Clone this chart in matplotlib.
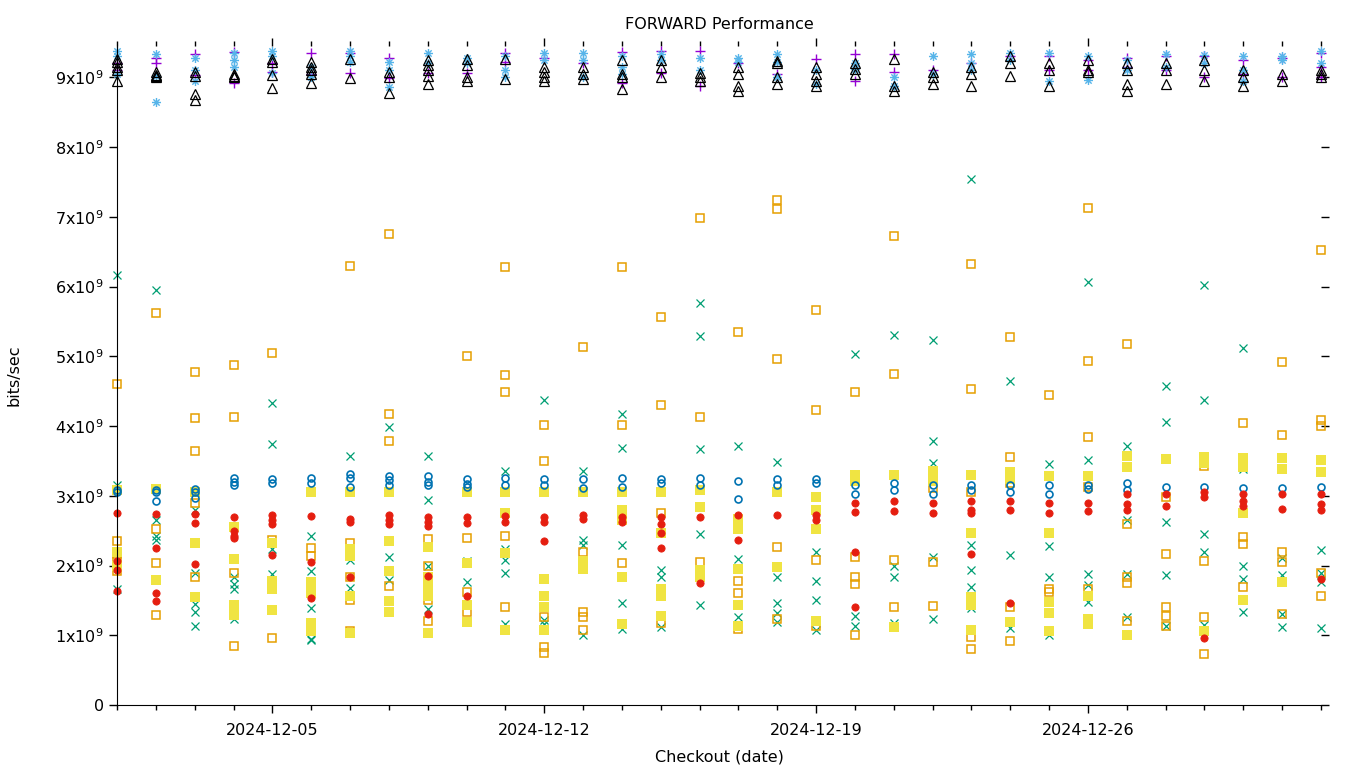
import datetime as dt
import matplotlib
matplotlib.use('Agg')
import matplotlib.pyplot as plt
import matplotlib.dates as mdates
from matplotlib.path import Path

# values in units of 1e9 bits/sec, one list per checkout day (2024-12-01 .. 2025-01-01)
start_day = dt.datetime(2024, 12, 1)

purple_plus = [[9.1, 9.2], [9.28, 9.2], [9.33, 9.03], [9.36, 8.92], [9.2, 9.08], [9.35, 9.05],
               [9.35, 9.06], [9.28, 8.99], [9.06], [9.06], [9.35, 9.22], [9.28], [9.2],
               [9.36, 8.92], [9.38, 9.06], [9.38, 8.88], [9.2], [9.05], [9.26], [9.34, 8.95],
               [9.33, 9.08], [9.1], [9.2], [9.3], [9.3, 9.1], [9.25, 9.1], [9.28, 9.15],
               [9.3, 9.1], [9.3, 9.0], [9.25, 9.05], [9.28, 9.0], [9.35, 9.15, 9.0]]

teal_x = [[6.17, 3.16, 1.66], [5.95, 2.66, 2.42, 2.36], [2.8, 1.9, 1.45, 1.34, 1.13],
          [1.83, 1.73, 1.66, 1.24], [4.33, 3.74, 2.24, 1.88], [2.42, 1.92, 1.39, 0.95, 0.93],
          [3.57, 2.08, 1.68], [3.98, 2.12, 1.79], [3.57, 2.94, 2.0, 1.37], [2.07, 1.76],
          [3.35, 2.23, 2.08, 1.89, 1.16], [4.37, 1.22, 1.16], [3.36, 2.37, 2.29, 1.0],
          [4.18, 3.68, 2.3, 1.46, 1.09], [1.93, 1.83, 1.12], [5.77, 5.29, 3.67, 2.45, 1.43],
          [3.71, 2.1, 1.26], [3.49, 1.83, 1.46, 1.32, 1.19], [2.2, 1.78, 1.5, 1.07],
          [5.04, 1.27, 1.14], [5.3, 2.0, 1.83, 1.17], [5.24, 3.79, 3.47, 2.12, 1.24],
          [7.54, 2.29, 1.93, 1.69, 1.39], [4.65, 2.15, 1.11], [3.45, 2.28, 1.84, 1.01],
          [6.06, 3.52, 1.88, 1.72, 1.48], [3.71, 2.66, 1.88, 1.26],
          [4.58, 4.06, 2.62, 1.86, 1.14], [6.02, 4.38, 2.45, 2.19, 1.15],
          [5.12, 3.39, 1.99, 1.8, 1.33], [2.11, 1.86, 1.3, 1.12], [2.22, 1.89, 1.76, 1.11]]

lightblue_star = [[9.38, 9.3, 9.05], [9.33, 9.02, 8.64], [9.28, 9.1, 8.95], [9.35, 9.25, 9.15],
                  [9.38, 9.3, 9.06], [9.15, 9.0], [9.38, 9.3, 9.22], [9.22, 9.1, 8.86],
                  [9.35, 9.2], [9.28, 9.2], [9.3, 9.1, 9.0], [9.35, 9.25], [9.35, 9.25, 9.0],
                  [9.3, 9.15, 9.05], [9.33, 9.25], [9.28, 9.1], [9.28, 9.22], [9.33, 9.22, 9.0],
                  [9.1, 8.9], [9.2, 9.12], [9.0, 8.88], [9.3, 9.05], [9.33, 9.2, 9.1],
                  [9.35, 9.25], [9.35, 8.95], [9.3, 8.96], [9.25, 9.1], [9.33, 9.15],
                  [9.32, 9.2], [9.3, 9.1, 8.95], [9.3, 9.25], [9.38, 9.2]]

orange_sq = [[4.6, 2.35, 2.17, 2.11, 1.92], [5.62, 2.52, 2.03, 1.29], [4.77, 4.11, 3.64, 2.9, 1.83],
             [4.87, 4.13, 1.89, 0.84], [5.05, 2.37, 0.96], [2.25, 2.13, 1.6],
             [6.3, 2.33, 1.84, 1.51, 1.06], [6.76, 4.17, 3.79, 1.71], [2.38, 2.0, 1.5, 1.2],
             [5.01, 2.39, 1.62, 1.34], [6.28, 4.73, 4.49, 2.42, 1.4], [4.02, 3.5, 1.26, 0.83, 0.75],
             [5.14, 2.19, 1.33, 1.26, 1.08], [6.28, 4.02, 2.03], [5.56, 4.3, 2.76, 1.17],
             [6.99, 4.13, 2.05], [5.35, 1.78, 1.6, 1.09], [7.24, 7.11, 4.96, 2.26, 1.24],
             [5.67, 4.23, 2.08, 1.14], [4.49, 2.12, 1.83, 1.74, 1.01], [6.72, 4.74, 2.08, 1.4],
             [3.11, 2.05, 1.42], [6.33, 4.53, 3.06, 0.97, 0.8], [5.28, 3.55, 3.18, 1.41, 0.92],
             [4.45, 1.67, 1.62], [7.13, 4.93, 3.85, 3.13, 1.66], [5.18, 2.6, 1.83, 1.75, 1.2],
             [2.98, 2.16, 1.4, 1.27, 1.14], [3.43, 2.06, 1.26, 0.73], [4.04, 2.41, 2.31, 1.69],
             [4.92, 3.87, 2.19, 2.05, 1.3], [6.53, 4.09, 4.0, 1.89, 1.56]]

yellow_sq = [[3.08, 2.2, 2.0], [3.1, 1.79], [3.05, 2.32, 1.55], [2.55, 2.1, 1.44, 1.35, 1.29],
             [2.32, 1.78, 1.66, 1.36], [3.05, 1.76, 1.68, 1.6, 1.17, 1.06],
             [3.05, 2.24, 2.14, 1.56, 1.03], [3.05, 2.35, 1.92, 1.49, 1.33],
             [2.26, 1.83, 1.7, 1.57, 1.03], [3.05, 2.03, 1.43, 1.19], [3.06, 2.75, 2.18, 1.08],
             [3.05, 1.8, 1.56, 1.4, 1.08], [3.05, 2.07, 1.95], [3.06, 2.8, 2.65, 1.83, 1.16],
             [3.06, 2.47, 1.67, 1.57, 1.28], [3.08, 2.84, 1.93, 1.83],
             [2.67, 2.52, 1.95, 1.43, 1.14], [3.06, 1.98], [2.98, 2.8, 2.52, 1.2], [3.3, 3.21],
             [3.3, 1.12], [3.36, 3.21], [3.3, 2.46, 1.55, 1.44, 1.07], [3.34, 3.24, 1.19],
             [3.28, 2.46, 1.47, 1.32, 1.06], [3.28, 1.57, 1.24, 1.16], [3.57, 3.42, 1.01],
             [3.53], [3.56, 3.47, 1.06], [3.54, 3.42, 2.75, 1.5], [3.54, 3.39, 1.77], [3.52, 3.34]]

blue_circ = [[3.08, 3.05], [3.08, 3.05, 2.93], [3.1, 3.05, 2.97], [3.26, 3.2, 3.16], [3.24, 3.18],
             [3.26, 3.19], [3.31, 3.25, 3.13], [3.29, 3.22, 3.16], [3.29, 3.2, 3.16],
             [3.24, 3.17, 3.13], [3.26, 3.16], [3.24, 3.16], [3.24, 3.11], [3.26, 3.13],
             [3.24, 3.18], [3.26, 3.16], [3.21, 2.95], [3.24, 3.16], [3.24, 3.18], [3.16, 3.03],
             [3.18, 3.08], [3.16, 3.03], [3.16, 3.08], [3.16, 3.06], [3.16, 3.03], [3.16, 3.1],
             [3.18, 3.08], [3.13], [3.13], [3.11], [3.11], [3.12]]

red_dot = [[2.75, 2.07, 1.93, 1.63], [2.74, 2.25, 1.6, 1.49], [2.74, 2.61, 2.02],
           [2.69, 2.49, 2.42, 2.39], [2.72, 2.66, 2.6, 2.15], [2.71, 2.05, 1.53], [2.67, 2.62, 1.84],
           [2.72, 2.66, 2.6], [2.7, 2.63, 2.57, 1.85, 1.31], [2.69, 2.61, 1.56], [2.71, 2.62],
           [2.7, 2.62, 2.35], [2.72, 2.67], [2.7, 2.62], [2.7, 2.6, 2.47, 2.25], [2.7, 1.75],
           [2.72, 2.36], [2.72], [2.72, 2.65], [2.9, 2.77, 2.2, 1.4], [2.92, 2.78], [2.9, 2.76],
           [2.92, 2.8, 2.76, 2.17], [2.92, 2.79, 1.46], [2.9, 2.75], [2.9, 2.78], [3.02, 2.88, 2.8],
           [3.03, 2.86], [3.05, 2.98, 0.96], [3.03, 2.93, 2.85], [3.02, 2.81], [3.03, 2.88, 2.8, 1.81]]

black_tri = [[9.27, 9.22, 9.15, 9.1, 8.95], [9.07, 9.04, 9.02, 9.0], [9.08, 9.02, 8.76, 8.68],
             [9.05, 9.02, 9.0], [9.27, 9.22, 9.03, 8.85], [9.22, 9.15, 9.1, 9.05, 8.92], [9.27, 8.99],
             [9.08, 9.0, 8.78], [9.25, 9.18, 9.1, 9.02, 8.9], [9.27, 9.18, 9.0, 8.95], [9.27, 8.98],
             [9.15, 9.08, 9.0, 8.95], [9.15, 9.05, 8.98], [9.25, 9.05, 9.0, 8.84], [9.25, 9.15, 9.0],
             [9.06, 9.0, 8.95], [9.15, 9.05, 8.87, 8.8], [9.24, 9.2, 9.0, 8.9],
             [9.15, 9.05, 8.95, 8.88], [9.2, 9.12, 9.05], [9.26, 8.88, 8.8], [9.08, 9.0, 8.9],
             [9.15, 9.05, 8.88], [9.3, 9.2, 9.02], [9.2, 9.1, 8.88], [9.25, 9.1, 9.08],
             [9.2, 9.1, 8.9, 8.8], [9.2, 9.1, 8.9], [9.25, 9.1, 8.95], [9.1, 9.0, 8.88],
             [9.05, 8.95], [9.1, 9.05, 9.0]]

ytick_vals = list(range(0, 10))

# gnuplot style "*" point: a plus over a cross
star = Path([(-1, 0), (1, 0), (0, -1), (0, 1), (-0.7, -0.7), (0.7, 0.7), (-0.7, 0.7), (0.7, -0.7)],
            [Path.MOVETO, Path.LINETO] * 4)


def flatten(series):
    xs, ys = [], []
    for d, vals in enumerate(series):
        for v in vals:
            xs.append(mdates.date2num(start_day + dt.timedelta(days=d)))
            ys.append(v * 1e9)
    return xs, ys


fig = plt.figure(figsize=(13.6, 7.68), dpi=100)
ax = fig.add_axes([117 / 1360, 63 / 768, (1321 - 117) / 1360, (705 - 46) / 768])

styles = [
    (purple_plus, dict(marker='+', color='#9400d3', ms=7, mew=1.0)),
    (teal_x, dict(marker='x', color='#009e73', ms=5.5, mew=0.9)),
    (lightblue_star, dict(marker=star, color='#56b4e9', ms=6.5, mew=1.0)),
    (orange_sq, dict(marker='s', color='#e69f00', mfc='none', ms=6, mew=1.1)),
    (yellow_sq, dict(marker='s', color='#f0e442', ms=6.5, mew=0)),
    (blue_circ, dict(marker='o', color='#0072b2', mfc='none', ms=5, mew=1.2)),
    (red_dot, dict(marker='o', color='#e51e10', ms=5.2, mew=0.6)),
    (black_tri, dict(marker='^', color='black', mfc='none', ms=6.5, mew=0.9)),
]
for series, st in styles:
    xs, ys = flatten(series)
    ax.plot(xs, ys, linestyle='none', clip_on=False, **st)

ax.set_xlim(mdates.date2num(start_day), mdates.date2num(dt.datetime(2025, 1, 1)))
ax.set_ylim(0, 9.45e9)

ax.spines['top'].set_visible(False)
ax.spines['right'].set_visible(False)
ax.xaxis.set_major_locator(mdates.DayLocator(bymonthday=[5, 12, 19, 26]))
ax.xaxis.set_minor_locator(mdates.DayLocator())
ax.xaxis.set_major_formatter(mdates.DateFormatter('%Y-%m-%d'))
ax.set_yticks([v * 1e9 for v in ytick_vals])
ax.set_yticklabels(['0'] + [f'{v}x10$^{{9}}$' for v in ytick_vals[1:]])
ax.tick_params(which='both', direction='out', top=True, right=True, labelsize=11.5, width=1)
ax.tick_params(which='major', length=6)
ax.tick_params(which='minor', length=3.5)
ax.tick_params(axis='x', which='major', pad=7)

ax.set_title('FORWARD Performance', fontsize=11.5, pad=12)
ax.set_xlabel('Checkout (date)', fontsize=11.5, labelpad=8)
ax.set_ylabel('bits/sec', fontsize=11.5, labelpad=24)

fig.savefig('out.png', dpi=100)
